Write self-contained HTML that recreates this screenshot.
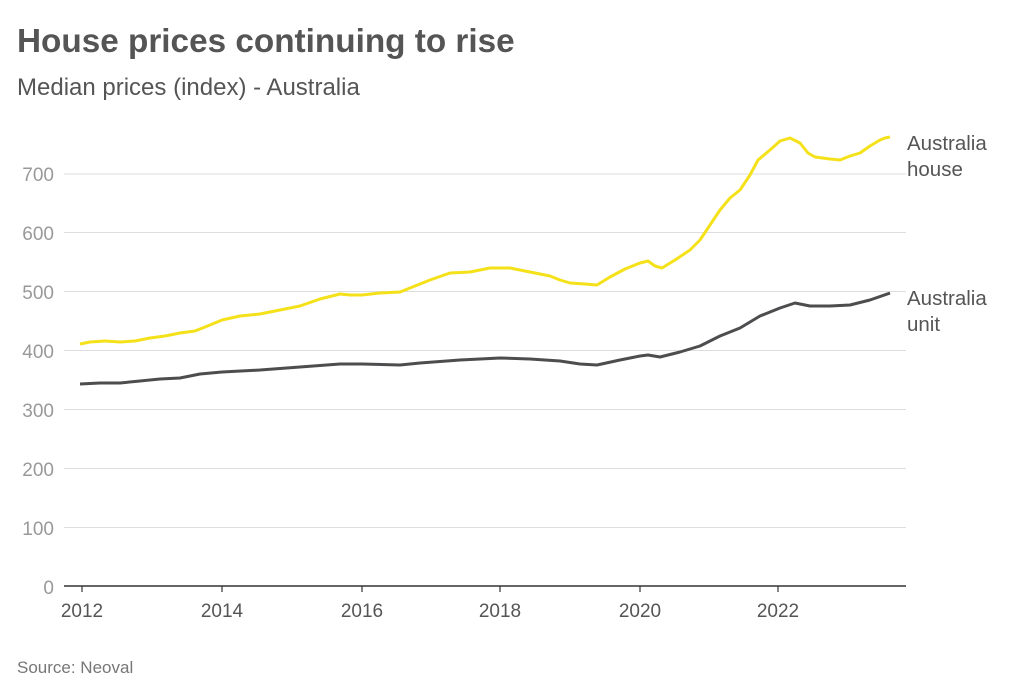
<!DOCTYPE html>
<html><head><meta charset="utf-8"><style>
body{margin:0;background:#fff;width:1024px;height:694px;overflow:hidden;font-family:"Liberation Sans",sans-serif}
</style></head><body>
<svg width="1024" height="694" xmlns="http://www.w3.org/2000/svg" font-family="Liberation Sans, sans-serif">
<text x="17" y="52" font-size="33.3" font-weight="bold" fill="#555">House prices continuing to rise</text>
<text x="17" y="95" font-size="24" fill="#555">Median prices (index) - Australia</text>
<g stroke="#ddd" stroke-width="1">
<line x1="64" x2="906" y1="174" y2="174"/><line x1="64" x2="906" y1="232.5" y2="232.5"/>
<line x1="64" x2="906" y1="291.5" y2="291.5"/><line x1="64" x2="906" y1="350.5" y2="350.5"/>
<line x1="64" x2="906" y1="409.5" y2="409.5"/><line x1="64" x2="906" y1="468.5" y2="468.5"/>
<line x1="64" x2="906" y1="527.5" y2="527.5"/>
</g>
<line x1="64" x2="906" y1="586" y2="586" stroke="#333" stroke-width="1.5"/>
<g stroke="#333" stroke-width="1.2">
<line x1="82" x2="82" y1="586" y2="592"/><line x1="222" x2="222" y1="586" y2="592"/>
<line x1="362" x2="362" y1="586" y2="592"/><line x1="500" x2="500" y1="586" y2="592"/>
<line x1="640" x2="640" y1="586" y2="592"/><line x1="778" x2="778" y1="586" y2="592"/>
</g>
<g font-size="19" fill="#999" text-anchor="end">
<text x="54" y="181">700</text><text x="54" y="240">600</text><text x="54" y="299">500</text>
<text x="54" y="358">400</text><text x="54" y="417">300</text><text x="54" y="476">200</text>
<text x="54" y="535">100</text><text x="54" y="594">0</text>
</g>
<g font-size="19" fill="#555" text-anchor="middle">
<text x="82" y="617">2012</text><text x="222" y="617">2014</text><text x="362" y="617">2016</text>
<text x="500" y="617">2018</text><text x="640" y="617">2020</text><text x="778" y="617">2022</text>
</g>
<polyline fill="none" stroke="#f5e11a" stroke-width="3" stroke-linejoin="round" points="80,344 90,342 105,341 120,342 135,341 150,338 165,336 180,333 195,331 210,325 222,320 240,316 260,314 280,310 300,306 320,299 340,294 350,295 362,295 380,293 400,292 410,288 430,280 450,273 470,272 490,268 510,268 530,272 550,276 560,280 570,283 585,284 597,285 610,277 625,269 640,263 648,261 655,266 662,268 675,260 690,250 700,240 710,225 720,210 730,198 740,190 750,175 758,160 770,150 780,141 790,138 800,143 808,153 815,157 830,159 840,160 850,156 860,153 870,146 880,140 885,138 890,137"/>
<polyline fill="none" stroke="#4d4d4f" stroke-width="3" stroke-linejoin="round" points="80,384 100,383 120,383 140,381 160,379 180,378 200,374 222,372 260,370 300,367 340,364 362,364 400,365 420,363 460,360 500,358 530,359 560,361 580,364 597,365 620,360 640,356 648,355 660,357 680,352 700,346 720,336 740,328 760,316 780,308 795,303 810,306 830,306 850,305 870,300 890,293"/>
<g font-size="20.5" fill="#555">
<text x="907" y="150">Australia</text><text x="907" y="176">house</text>
<text x="907" y="305">Australia</text><text x="907" y="331">unit</text>
</g>
<text x="17" y="673" font-size="17" fill="#777">Source: Neoval</text>
</svg>
</body></html>
